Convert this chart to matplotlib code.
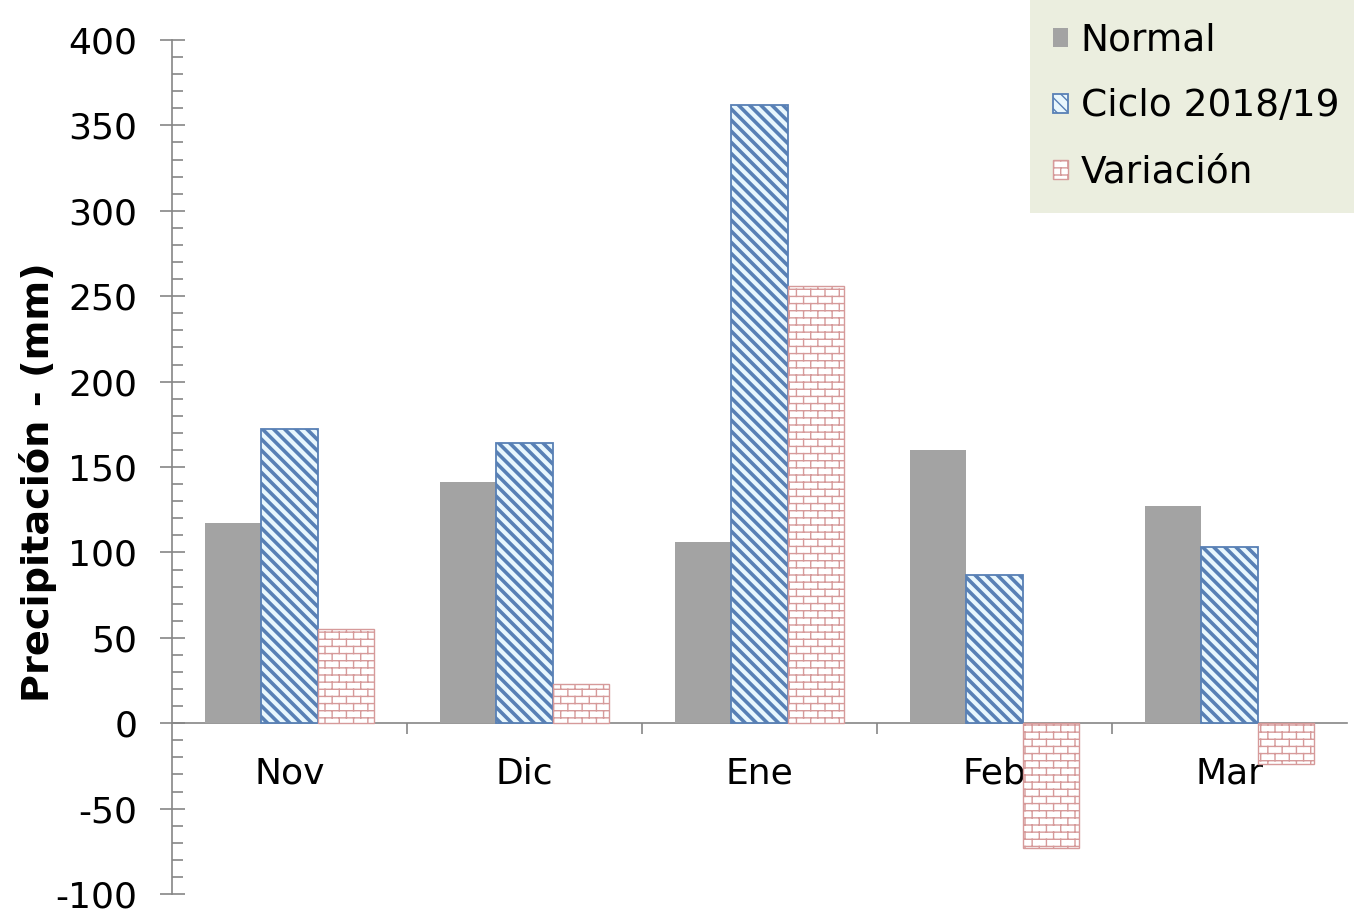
import numpy as np
import matplotlib
matplotlib.use('Agg')
import matplotlib.pyplot as plt
import matplotlib.hatch as mhatch
from matplotlib.path import Path
from matplotlib.ticker import MultipleLocator

# Monthly precipitation (mm)
months = ['Nov', 'Dic', 'Ene', 'Feb', 'Mar']
normal = [117, 141, 106, 160, 127]
ciclo = [172, 164, 362, 87, 103]
variacion = [55, 23, 256, -73, -24]


# brick hatch, hooked onto the '*' character (replaces the stars pattern)
class BrickHatch(mhatch.HatchPatternBase):
    rows, cols = 14, 7

    def __init__(self, hatch, density):
        self.on = '*' in hatch
        self.num_vertices = 2 * (self.rows + (self.rows + 1) * self.cols) if self.on else 0

    def set_vertices_and_codes(self, vertices, codes):
        segs = []
        for r in range(self.rows):
            y = (r + 0.5) / self.rows
            segs.append([(0, y), (1, y)])
        for r in range(self.rows + 1):
            y0, y1 = (r - 0.5) / self.rows, (r + 0.5) / self.rows
            for c in range(self.cols):
                x = (c + 0.25 + 0.5 * (r % 2)) / self.cols
                segs.append([(x, y0), (x, y1)])
        vertices[:] = np.array(segs).reshape(-1, 2)
        codes[0::2] = Path.MOVETO
        codes[1::2] = Path.LINETO


mhatch._hatch_types = [t for t in mhatch._hatch_types if t is not mhatch.Stars] + [BrickHatch]

plt.rcParams['font.family'] = ['DejaVu Sans']
plt.rcParams['axes.unicode_minus'] = False

fig = plt.figure(figsize=(13.54, 9.1), dpi=100)
ax = fig.add_axes([0.127, 0.0175, 0.868, 0.9386])

x = np.arange(len(months))
w = 0.24
grey = '#868686'

ax.bar(x - w, normal, w, color='#A3A3A3', label='Normal', zorder=2)

plt.rcParams['hatch.linewidth'] = 2.6
b2 = ax.bar(x, ciclo, w, facecolor='#E9F7FD', edgecolor='#5880B5', linewidth=1.3,
            hatch='\\\\\\', label='Ciclo 2018/19', zorder=2)
for p in b2:
    if hasattr(p, 'set_hatch_linewidth'):
        p.set_hatch_linewidth(2.6)

plt.rcParams['hatch.linewidth'] = 1.0
b3 = ax.bar(x + w, variacion, w, facecolor='white', edgecolor='#D69A9A', linewidth=1.0,
            hatch='*', label='Variación', zorder=2)
for p in b3:
    if hasattr(p, 'set_hatch_linewidth'):
        p.set_hatch_linewidth(1.0)

# axes
ax.set_xlim(-0.5, 4.5)
ax.set_ylim(-100, 400)
ax.spines['top'].set_visible(False)
ax.spines['right'].set_visible(False)
ax.spines['bottom'].set_position(('data', 0))
for s in ['left', 'bottom']:
    ax.spines[s].set_color(grey)
    ax.spines[s].set_linewidth(1.2)
    ax.spines[s].set_zorder(1)

ax.set_xticks([0.5, 1.5, 2.5, 3.5])
ax.set_xticklabels([])
ax.set_xticks(x, months, minor=True)
ax.tick_params(axis='x', which='major', direction='out', length=8, width=1.2, color=grey)
ax.tick_params(axis='x', which='minor', length=0, pad=24, labelsize=26)

ax.set_yticks(np.arange(-100, 401, 50))
ax.yaxis.set_minor_locator(MultipleLocator(10))
ax.tick_params(axis='y', which='major', direction='inout', length=18, width=1.2,
               color=grey, labelsize=26, pad=16)
ax.tick_params(axis='y', which='minor', direction='in', length=8, width=1.2, color=grey)

ax.set_ylabel('Precipitación - (mm)', fontsize=27.5, fontweight='bold')
ax.yaxis.set_label_coords(-0.098, 0.482)

leg = fig.legend(loc='upper left', bbox_to_anchor=(1030 / 1354, 1.0), fontsize=27,
                 frameon=True, fancybox=False, facecolor='#EBEEDF', edgecolor='none',
                 framealpha=1, handlelength=0.4, handleheight=0.4, handletextpad=0.35,
                 labelspacing=0.8, borderpad=0.6, borderaxespad=0)

fig.savefig('out.png', dpi=100)
